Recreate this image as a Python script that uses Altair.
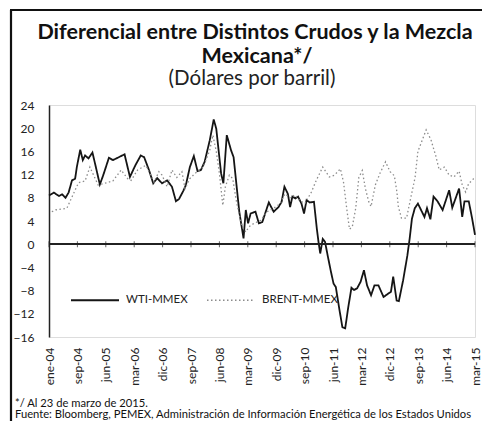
import altair as alt
import pandas as pd

# x positions are in "tick periods" (0 = ene-04 ... 15 = mar-15)
tick_labels = ["ene-04", "sep-04", "jun-05", "mar-06", "dic-06", "sep-07", "jun-08", "mar-09",
               "dic-09", "sep-10", "jun-11", "mar-12", "dic-12", "sep-13", "jun-14", "mar-15"]

wti_t = [0.00, 0.17, 0.35, 0.46, 0.58, 0.69, 0.81, 0.92, 0.98, 1.10, 1.19, 1.27, 1.39, 1.53, 1.65,
         1.79, 1.91, 2.11, 2.25, 2.42, 2.66, 2.85, 3.04, 3.23, 3.35, 3.52, 3.67, 3.81, 3.98, 4.16,
         4.33, 4.47, 4.58, 4.74, 4.82, 4.96, 5.10, 5.23, 5.35, 5.48, 5.66, 5.80, 5.89, 6.06, 6.14,
         6.26, 6.41, 6.50, 6.70, 6.85, 6.93, 7.01, 7.10, 7.27, 7.39, 7.51, 7.74, 7.91, 8.08, 8.19,
         8.29, 8.41, 8.49, 8.57, 8.68, 8.77, 8.89, 8.98, 9.07, 9.18, 9.33, 9.43, 9.49, 9.55, 9.64,
         9.72, 9.81, 9.93, 10.02, 10.10, 10.22, 10.33, 10.43, 10.53, 10.65, 10.74, 10.85, 10.97,
         11.09, 11.20, 11.34, 11.46, 11.60, 11.78, 11.95, 12.04, 12.12, 12.24, 12.32, 12.47, 12.62,
         12.70, 12.78, 12.88, 12.99, 13.10, 13.22, 13.31, 13.43, 13.54, 13.68, 13.86, 14.09, 14.20,
         14.44, 14.55, 14.63, 14.78, 14.90, 15.00]
wti_v = [8.4, 8.9, 8.3, 8.6, 8.0, 8.9, 11.0, 11.3, 13.3, 16.3, 14.5, 15.3, 14.8, 15.8, 13.3,
         10.3, 11.9, 14.9, 14.5, 14.9, 15.5, 11.6, 13.6, 15.3, 15.0, 12.8, 10.5, 11.4, 10.5, 11.0,
         9.9, 7.4, 7.8, 9.3, 10.2, 13.3, 15.2, 12.6, 12.8, 14.2, 17.9, 21.5, 19.9, 12.2, 10.5,
         18.8, 16.2, 15.0, 5.6, 1.0, 5.9, 3.6, 5.3, 5.6, 3.6, 3.8, 7.2, 5.6, 6.4, 7.3,
         9.9, 8.7, 6.4, 8.2, 7.9, 8.2, 7.0, 5.3, 7.6, 7.2, 7.3, 2.7, 0.4, -1.6, 0.9,
         0.4, -1.9, -4.8, -6.8, -7.4, -11.1, -14.3, -14.5, -11.1, -7.5, -7.9, -7.6, -6.5,
         -4.5, -7.1, -8.8, -7.1, -7.1, -9.1, -8.5, -8.2, -5.6, -9.7, -9.8, -6.2, -1.9,
         1.0, 4.4, 6.2, 7.0, 5.9, 4.7, 6.2, 4.3, 8.2, 7.4, 5.9, 9.3, 6.3,
         9.6, 4.7, 7.4, 7.4, 4.4, 1.6]

brent_t = [0.10, 0.23, 0.63, 0.87, 1.04, 1.27, 1.44, 1.73, 1.96, 2.25, 2.54, 2.77, 2.89, 3.12,
           3.41, 3.70, 3.87, 3.98, 4.16, 4.33, 4.50, 4.68, 4.79, 4.96, 5.14, 5.43, 5.66, 5.77,
           5.89, 6.00, 6.12, 6.21, 6.35, 6.47, 6.58, 6.70, 6.81, 6.93, 7.04, 7.22, 7.45, 7.68,
           7.91, 8.14, 8.31, 8.49, 8.66, 8.83, 9.01, 9.24, 9.41, 9.64, 9.87, 10.05, 10.26, 10.37,
           10.49, 10.58, 10.68, 10.80, 10.91, 11.03, 11.14, 11.26, 11.34, 11.49, 11.66, 11.85,
           12.01, 12.16, 12.25, 12.30, 12.41, 12.59, 12.76, 12.89, 12.99, 13.10, 13.28, 13.45,
           13.62, 13.74, 13.92, 14.09, 14.26, 14.44, 14.55, 14.67, 14.78, 14.90, 15.00]
brent_v = [5.6, 5.9, 6.2, 8.8, 10.6, 10.9, 13.3, 10.2, 10.5, 10.9, 12.8, 11.3, 11.0, 12.8,
           13.6, 10.7, 12.5, 11.9, 9.9, 12.8, 11.5, 12.5, 9.6, 11.3, 12.2, 13.3, 16.2, 18.8,
           16.0, 12.2, 6.7, 9.9, 11.9, 11.3, 7.9, 5.0, 3.0, 2.1, 3.0, 3.6, 4.1, 5.6,
           6.2, 7.0, 8.7, 8.0, 8.5, 7.5, 7.0, 9.0, 11.0, 13.3, 11.6, 11.9, 13.0, 10.7,
           5.9, 2.6, 3.0, 6.2, 11.5, 12.7, 9.6, 7.3, 6.5, 10.2, 12.3, 14.2,
           12.5, 11.8, 9.0, 6.5, 4.5, 4.5, 8.5, 11.5, 16.0, 17.4, 19.7, 18.0,
           15.2, 12.8, 13.3, 11.9, 11.6, 12.6, 10.2, 9.0, 10.5, 11.0, 11.6]

series = ["WTI-MMEX", "BRENT-MMEX"]

title_lines = ["Diferencial entre Distintos Crudos y la Mezcla", "Mexicana*/"]
subtitle = "(Dólares por barril)"
notes = ["*/ Al 23 de marzo de 2015.",
         "Fuente: Bloomberg, PEMEX, Administración de Información Energética de los Estados Unidos"]

df = pd.concat([
    pd.DataFrame({"t": wti_t, "v": wti_v, "serie": series[0]}),
    pd.DataFrame({"t": brent_t, "v": brent_v, "serie": series[1]}),
])
zero_df = pd.DataFrame({"t": list(range(16)), "v": [0] * 16})

W, H = 426, 232
LEFT = 41
FONT = "Lato"

xscale = alt.Scale(domain=[0, 15], nice=False, zero=False)
yscale = alt.Scale(domain=[-16, 24], nice=False)

label_expr = "[" + ",".join("'%s'" % s for s in tick_labels) + "][round(datum.value)]"

x_axis = alt.Axis(values=list(range(16)), labelExpr=label_expr, title=None,
                  domain=False, ticks=False, grid=False,
                  labelOverlap=False, labelAngle=-90, labelPadding=10,
                  labelFontSize=12, labelFont=FONT, labelColor="#222")
y_axis = alt.Axis(values=list(range(-16, 25, 4)), title=None, grid=False,
                  ticks=False, labelPadding=15, labelOverlap=False,
                  labelFontSize=12, labelFont=FONT, labelColor="#222",
                  domainColor="#222", domainWidth=1.5)

X = alt.X("t:Q", scale=xscale, axis=x_axis)
Y = alt.Y("v:Q", scale=yscale, axis=y_axis)

lines = alt.Chart(df).mark_line(interpolate="linear").encode(
    x=X, y=Y,
    color=alt.Color("serie:N", scale=alt.Scale(domain=series, range=["#151515", "#8c8c8c"]),
                    legend=alt.Legend(title=None, orient="none", direction="horizontal",
                                      legendX=21, legendY=170, symbolType="stroke",
                                      symbolSize=2304, symbolStrokeWidth=1.4,
                                      labelFont=FONT, labelFontSize=11.5, labelColor="#222",
                                      labelOffset=6, columnPadding=16)),
    strokeDash=alt.StrokeDash("serie:N", scale=alt.Scale(domain=series, range=[[1, 0], [1.5, 2.5]]),
                              legend=None),
    strokeWidth=alt.StrokeWidth("serie:N", scale=alt.Scale(domain=series, range=[1.8, 1.3]),
                                legend=None),
)

zero = alt.Chart(zero_df).mark_rule(color="#222", strokeWidth=1.2).encode(y=Y)

xticks = alt.Chart(zero_df).mark_tick(
    orient="vertical", size=6, thickness=1, color="#222"
).encode(x=X, y=Y)

one = pd.DataFrame({"a": [0]})
frame_left = alt.Chart(one).mark_rule(color="#111", strokeWidth=2.2).encode(
    x=alt.value(11 - 8 - LEFT), y=alt.value(-95), y2=alt.value(340))
frame_top = alt.Chart(one).mark_rule(color="#111", strokeWidth=2.2).encode(
    x=alt.value(10 - 8 - LEFT), x2=alt.value(460), y=alt.value(-95))

def text_layer(txt, x, y, size, weight="normal", align="center", color="#111"):
    return alt.Chart(pd.DataFrame({"txt": [txt]})).mark_text(
        align=align, baseline="alphabetic", font=FONT, fontSize=size,
        fontWeight=weight, color=color
    ).encode(text="txt:N", x=alt.value(x - 8 - LEFT), y=alt.value(y))

# x given in page pixels (converted to plot-relative)
t1 = text_layer(title_lines[0], 255, -66.5, 21.5, "bold")
t2 = text_layer(title_lines[1], 257, -42.5, 21.5, "bold")
t3 = text_layer(subtitle, 252, -20, 20.5, "normal", color="#222")
f1 = text_layer(notes[0], 15, 301.5, 11.2, align="left")
f2 = text_layer(notes[1], 15, 313, 11.2, align="left")

chart = alt.layer(lines, zero, xticks, frame_left, frame_top, t1, t2, t3, f1, f2).properties(
    width=W, height=H,
    autosize=alt.AutoSizeParams(type="none"),
    padding={"left": LEFT, "top": 97, "right": 474 - LEFT - W, "bottom": 84},
).configure_view(stroke=None).configure(background="white")

chart.save("out.html", embed_options={"renderer": "svg", "actions": False})
